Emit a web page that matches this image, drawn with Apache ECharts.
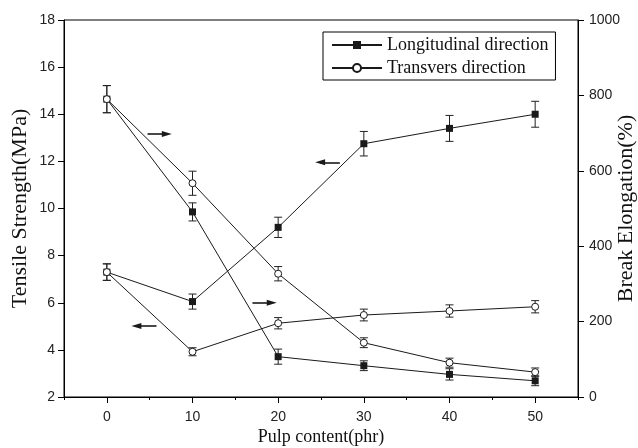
<!DOCTYPE html>
<html>
<head>
<meta charset="utf-8">
<script src="https://cdn.jsdelivr.net/npm/echarts@6/dist/echarts.min.js"></script>
<style>
  html, body { margin: 0; padding: 0; background: #fff; }
  #chart { width: 638px; height: 448px; }
</style>
</head>
<body>
<div id="chart"></div>
<script>
// Pulp content (phr)
const pulpContent = [0, 10, 20, 30, 40, 50];

// Tensile strength (MPa), left axis
const tensileLongitudinal = [7.3, 6.05, 9.2, 12.75, 13.4, 14.0];
const tensileLongitudinalErr = [0.35, 0.32, 0.43, 0.52, 0.55, 0.55];
const tensileTransverse = [7.3, 3.92, 5.13, 5.48, 5.65, 5.83];
const tensileTransverseErr = [0.35, 0.17, 0.24, 0.25, 0.26, 0.26];

// Break elongation (%), right axis
const elongLongitudinal = [790, 491, 107, 83, 60, 43];
const elongLongitudinalErr = [36, 24, 20, 13, 15, 13];
const elongTransverse = [790, 567, 327, 144, 91, 66];
const elongTransverseErr = [36, 32, 19, 13, 12, 11];

// Axis tick labels
const xMajorTicks = [0, 10, 20, 30, 40, 50];
const xMinorTicks = [-5, 5, 15, 25, 35, 45, 55];

// Arrows telling which axis each pair of curves belongs to (left-axis units)
const axisArrows = [
  { from: [4.75, 13.16], to: [7.0, 13.16] },
  { from: [5.8, 5.01], to: [3.45, 5.01] },
  { from: [17.0, 6.0], to: [19.25, 6.0] },
  { from: [27.2, 11.96], to: [24.9, 11.96] }
];

const LEG_LONG = 'Longitudinal direction';
const LEG_TRANS = 'Transvers direction';
const INK = '#1a1a1a';

function pairs(xs, ys) { return xs.map((x, i) => [x, ys[i]]); }
function triples(xs, ys, es) { return xs.map((x, i) => [x, ys[i], es[i]]); }

function renderErrorBar(params, api) {
  const x = api.value(0), y = api.value(1), e = api.value(2);
  const top = api.coord([x, y + e]);
  const bot = api.coord([x, y - e]);
  const hw = 4;
  const st = { stroke: '#222', lineWidth: 1 };
  return {
    type: 'group',
    children: [
      { type: 'line', shape: { x1: top[0], y1: top[1], x2: bot[0], y2: bot[1] }, style: st },
      { type: 'line', shape: { x1: top[0] - hw, y1: top[1], x2: top[0] + hw, y2: top[1] }, style: st },
      { type: 'line', shape: { x1: bot[0] - hw, y1: bot[1], x2: bot[0] + hw, y2: bot[1] }, style: st }
    ]
  };
}

function errorSeries(yAxisIndex, vals, errs) {
  return {
    type: 'custom',
    xAxisIndex: 0,
    yAxisIndex: yAxisIndex,
    renderItem: renderErrorBar,
    encode: { x: 0, y: 1 },
    data: triples(pulpContent, vals, errs),
    clip: false,
    z: 1,
    silent: true
  };
}

function squareSeries(yAxisIndex, vals, extra) {
  return Object.assign({
    name: LEG_LONG,
    type: 'line',
    xAxisIndex: 0,
    yAxisIndex: yAxisIndex,
    data: pairs(pulpContent, vals),
    symbol: 'rect',
    symbolSize: 7,
    lineStyle: { color: INK, width: 1 },
    itemStyle: { color: INK, borderColor: INK, borderWidth: 0 },
    z: 3
  }, extra || {});
}

function circleSeries(yAxisIndex, vals) {
  return {
    name: LEG_TRANS,
    type: 'line',
    xAxisIndex: 0,
    yAxisIndex: yAxisIndex,
    data: pairs(pulpContent, vals),
    symbol: 'circle',
    symbolSize: 7,
    showAllSymbol: true,
    lineStyle: { color: INK, width: 1 },
    itemStyle: { color: '#fff', borderColor: INK, borderWidth: 1 },
    z: 4
  };
}

const serif = 'Liberation Serif';
const sans = 'Liberation Sans';

const option = {
  animation: false,
  backgroundColor: '#fff',
  grid: {
    left: 64, right: 60, top: 20, bottom: 51,
    containLabel: false,
    outerBoundsMode: 'none',
    show: true, borderColor: '#000', borderWidth: 1, backgroundColor: 'transparent'
  },
  legend: {
    orient: 'vertical',
    left: 323, top: 32,
    padding: [4, 7, 3, 8],
    itemGap: 5,
    itemWidth: 50,
    itemHeight: 10,
    borderColor: '#000',
    borderWidth: 1,
    backgroundColor: '#fff',
    data: [LEG_LONG, LEG_TRANS],
    textStyle: { fontFamily: serif, fontSize: 18, color: '#111', padding: [0, 0, 0, 0] }
  },
  xAxis: [
    {
      type: 'value',
      min: -5, max: 55,
      position: 'bottom',
      axisLine: { show: true, onZero: false, lineStyle: { color: '#000', width: 1 } },
      axisTick: { show: true, length: 6, customValues: xMajorTicks, lineStyle: { color: '#000' } },
      axisLabel: { customValues: xMajorTicks, fontFamily: sans, fontSize: 14, color: '#222', margin: 13 },
      splitLine: { show: false },
      name: 'Pulp content(phr)',
      nameLocation: 'middle',
      nameGap: 31,
      nameMoveOverlap: false,
      nameTextStyle: { fontFamily: serif, fontSize: 18, color: '#111' }
    },
    {
      type: 'value',
      min: -5, max: 55,
      position: 'bottom',
      axisLine: { show: false, onZero: false },
      axisTick: { show: true, length: 3, customValues: xMinorTicks, lineStyle: { color: '#000' } },
      axisLabel: { show: false },
      splitLine: { show: false }
    }
  ],
  yAxis: [
    {
      type: 'value',
      min: 2, max: 18, interval: 2,
      position: 'left',
      axisLine: { show: true, onZero: false, lineStyle: { color: '#000', width: 1 } },
      axisTick: { show: true, length: 6, lineStyle: { color: '#000' } },
      axisLabel: { fontFamily: sans, fontSize: 14, color: '#222', margin: 9 },
      splitLine: { show: false },
      name: 'Tensile Strength(MPa)',
      nameLocation: 'middle',
      nameRotate: 90,
      nameGap: 33,
      nameMoveOverlap: false,
      nameTextStyle: { fontFamily: serif, fontSize: 22, color: '#111' }
    },
    {
      type: 'value',
      min: 0, max: 1000, interval: 200,
      position: 'right',
      axisLine: { show: true, onZero: false, lineStyle: { color: '#000', width: 1 } },
      axisTick: { show: true, length: 6, lineStyle: { color: '#000' } },
      axisLabel: { fontFamily: sans, fontSize: 14, color: '#222', margin: 11, formatter: v => String(v) },
      splitLine: { show: false },
      name: 'Break Elongation(%)',
      nameLocation: 'middle',
      nameRotate: 90,
      nameGap: 37,
      nameMoveOverlap: false,
      nameTextStyle: { fontFamily: serif, fontSize: 22, color: '#111' }
    }
  ],
  series: [
    errorSeries(0, tensileLongitudinal, tensileLongitudinalErr),
    errorSeries(0, tensileTransverse, tensileTransverseErr),
    errorSeries(1, elongLongitudinal, elongLongitudinalErr),
    errorSeries(1, elongTransverse, elongTransverseErr),
    squareSeries(0, tensileLongitudinal, {
      markLine: {
        silent: true,
        symbol: ['none', 'triangle'],
        symbolSize: [6, 10],
        label: { show: false },
        lineStyle: { color: INK, width: 1.6, type: 'solid' },
        data: axisArrows.map(a => [{ coord: a.from }, { coord: a.to }])
      }
    }),
    squareSeries(1, elongLongitudinal),
    circleSeries(0, tensileTransverse),
    circleSeries(1, elongTransverse)
  ]
};

const chart = echarts.init(document.getElementById('chart'), null, { renderer: 'canvas' });
chart.setOption(option);
</script>
</body>
</html>
